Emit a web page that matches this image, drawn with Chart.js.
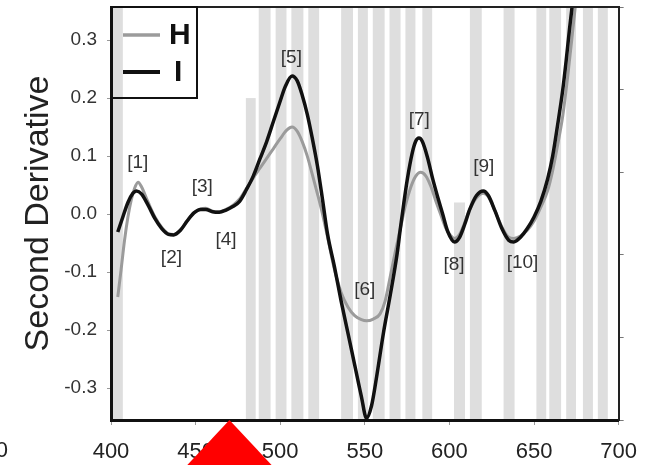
<!DOCTYPE html>
<html>
<head>
<meta charset="utf-8">
<title>Second Derivative</title>
<script src="https://cdn.jsdelivr.net/npm/chart.js@4.4.1/dist/chart.umd.min.js"></script>
<style>
  html, body { margin: 0; padding: 0; background: #fff; }
  #wrap { width: 651px; height: 465px; }
</style>
</head>
<body>
<div id="wrap"><canvas id="myChart" width="651" height="465"></canvas></div>
<script>
// Spectrum H (grey trace)
var hWave = [404,406,408,410,412,414,416,418,422,426,430,434,437,441,445,449,453,456,460,464,
             468,472,476,480,484,488,492,496,500,504,507,510,513,516,519,522,525,528,532,536,
             540,544,548,551,555,559,562,565,568,571,574,577,580,583,586,589,592,595,598,601,
             603,606,609,612,616,620,623,627,631,635,638,642,646,650,654,658,661,664,667,670,
             673,675,678];
var hValues = [-0.143,-0.095,-0.045,-0.005,0.025,0.045,0.055,0.047,0.020,-0.005,-0.023,-0.034,-0.035,-0.028,-0.012,0.002,0.009,0.010,0.005,0.004,
               0.008,0.015,0.026,0.044,0.062,0.079,0.096,0.113,0.130,0.145,0.150,0.143,0.125,0.100,0.068,0.035,0.000,-0.040,-0.095,-0.135,
               -0.160,-0.175,-0.182,-0.184,-0.181,-0.172,-0.150,-0.108,-0.065,-0.025,0.015,0.045,0.065,0.072,0.066,0.048,0.022,-0.002,-0.025,-0.038,
               -0.042,-0.035,-0.015,0.008,0.028,0.036,0.030,0.005,-0.022,-0.040,-0.042,-0.038,-0.028,-0.012,0.012,0.040,0.075,0.120,0.170,0.240,
               0.320,0.375,0.460];

// Spectrum I (black trace)
var iWave = [404,407,410,413,415,418,422,426,430,434,437,441,445,449,453,456,460,464,468,472,
             476,480,484,488,492,496,500,503,507,510,513,516,519,522,525,528,532,536,540,544,
             548,551,554,557,561,565,569,571,573,575,578,580,582,584,587,590,593,596,599,603,
             606,609,612,616,620,623,627,631,635,638,642,646,650,654,658,661,664,667,669,671,
             673,676];
var iValues = [-0.031,-0.005,0.020,0.036,0.040,0.035,0.015,-0.008,-0.025,-0.035,-0.036,-0.028,-0.012,0.002,0.008,0.008,0.004,0.003,0.007,0.013,
               0.022,0.042,0.065,0.095,0.125,0.160,0.195,0.220,0.238,0.230,0.205,0.172,0.130,0.083,0.025,-0.035,-0.090,-0.150,-0.205,-0.260,
               -0.315,-0.352,-0.330,-0.280,-0.205,-0.140,-0.070,-0.025,0.018,0.058,0.105,0.125,0.131,0.125,0.098,0.062,0.030,0.000,-0.030,-0.048,
               -0.040,-0.018,0.008,0.032,0.040,0.032,0.005,-0.025,-0.045,-0.048,-0.040,-0.025,-0.005,0.022,0.060,0.100,0.155,0.215,0.265,0.320,
               0.370,0.450];

// numbered band labels
var peakNames = ['[1]','[2]','[3]','[4]','[5]','[6]','[7]','[8]','[9]','[10]'];
var peakWave  = [415.8, 435.7, 453.9, 468.0, 506.6, 550.0, 582.2, 602.7, 620.3, 643.2];
var peakValue = [0.088, -0.076, 0.047, -0.045, 0.269, -0.131, 0.162, -0.088, 0.081, -0.084];

// shaded wavelength windows (null top = full height)
var bandStart = [401.0,479.7,487.3,497.3,506.6,516.6,536.0,545.9,554.7,564.6,574.0,584.0,602.7,612.1,632.0,651.4,659.0,669.0,678.9,687.7];
var bandEnd   = [407.0,485.5,494.3,503.7,513.7,523.0,543.0,551.8,561.7,571.1,579.9,589.8,609.2,619.1,638.5,657.2,666.0,674.8,684.8,693.6];
var bandTop   = [null,0.2,null,null,null,null,null,null,null,null,null,null,0.02,null,null,null,null,null,null,null];

var xTicks = [400, 450, 500, 550, 600, 650, 700];
var yTicks = [-0.3, -0.2, -0.1, 0.0, 0.1, 0.2, 0.3];
var markerWave = 470;

function toPoints(xs, ys) {
    var pts = [];
    for (var i = 0; i < xs.length; i++) pts.push({x: xs[i], y: ys[i]});
    return pts;
}

// grey bands behind everything
var bandPlugin = {
    id: 'bands',
    beforeDraw: function(chart) {
        var c = chart.ctx, area = chart.chartArea;
        var sx = chart.scales.x, sy = chart.scales.y;
        c.save();
        c.fillStyle = '#dedede';
        for (var i = 0; i < bandStart.length; i++) {
            var x0 = sx.getPixelForValue(bandStart[i]);
            var x1 = sx.getPixelForValue(bandEnd[i]);
            var top = bandTop[i] === null ? area.top : sy.getPixelForValue(bandTop[i]);
            c.fillRect(x0, top, x1 - x0, area.bottom - top);
        }
        c.restore();
    }
};

// top frame line + peak numbers
var notePlugin = {
    id: 'notes',
    afterDatasetsDraw: function(chart) {
        var c = chart.ctx, area = chart.chartArea;
        var sx = chart.scales.x, sy = chart.scales.y;
        c.save();
        c.strokeStyle = '#222';
        c.lineWidth = 2;
        c.beginPath();
        c.moveTo(area.left, area.top);
        c.lineTo(area.right, area.top);
        c.stroke();

        c.fillStyle = '#333';
        c.font = '19px "Liberation Sans", Arial, sans-serif';
        c.textAlign = 'center';
        c.textBaseline = 'middle';
        for (var i = 0; i < peakNames.length; i++) {
            c.fillText(peakNames[i], sx.getPixelForValue(peakWave[i]), sy.getPixelForValue(peakValue[i]));
        }
        c.restore();
    },
    afterDraw: function(chart) {
        var c = chart.ctx, area = chart.chartArea;
        var sx = chart.scales.x;
        var sets = chart.data.datasets;
        c.save();

        // legend box in the upper left corner
        var lx = area.left, ly = area.top;
        c.strokeStyle = '#111';
        c.lineWidth = 2;
        c.strokeRect(lx, ly, 86, 91);
        c.font = 'bold 30px "Liberation Sans Narrow", "Liberation Sans", Arial, sans-serif';
        c.textAlign = 'left';
        c.textBaseline = 'middle';
        for (var i = 0; i < sets.length; i++) {
            var yy = ly + 28 + i * 37;
            c.strokeStyle = sets[i].borderColor;
            c.lineWidth = sets[i].borderWidth + 0.5;
            c.beginPath();
            c.moveTo(lx + 12, yy);
            c.lineTo(lx + 49, yy);
            c.stroke();
            c.fillStyle = '#111';
            c.fillText(sets[i].label, lx + (i === 0 ? 58 : 63), yy + 1);
        }

        // red pointer under the x axis
        var px = sx.getPixelForValue(markerWave);
        c.fillStyle = '#ff0000';
        c.beginPath();
        c.moveTo(px, area.bottom);
        c.lineTo(px + 44, area.bottom + 47);
        c.lineTo(px - 44, area.bottom + 47);
        c.closePath();
        c.fill();

        // edge of the neighbouring panel's axis label
        c.fillStyle = '#222';
        c.font = '22px "Liberation Sans", Arial, sans-serif';
        c.textAlign = 'right';
        c.fillText('0', 8, 451);
        c.restore();
    }
};

document.addEventListener("DOMContentLoaded", function() {
    var ctx = document.getElementById('myChart').getContext('2d');
    if (ctx) {
        var myChart = new Chart(ctx, {
            type: 'line',
            data: {
                datasets: [{
                    label: 'H',
                    data: toPoints(hWave, hValues),
                    borderColor: '#9b9b9b',
                    borderWidth: 3,
                    pointRadius: 0,
                    cubicInterpolationMode: 'monotone',
                    order: 1
                }, {
                    label: 'I',
                    data: toPoints(iWave, iValues),
                    borderColor: '#111111',
                    borderWidth: 3.5,
                    pointRadius: 0,
                    cubicInterpolationMode: 'monotone',
                    order: 0
                }]
            },
            options: {
                responsive: false,
                animation: false,
                layout: { padding: { top: 7, right: 0, bottom: 0, left: 0 } },
                plugins: {
                    legend: { display: false },
                    tooltip: { enabled: false }
                },
                scales: {
                    x: {
                        type: 'linear',
                        min: 400,
                        max: 700,
                        afterBuildTicks: function(scale) {
                            scale.ticks = xTicks.map(function(v) { return {value: v}; });
                        },
                        afterFit: function(scale) {
                            scale.height = 45;
                        },
                        grid: { drawOnChartArea: false, drawTicks: true, tickLength: 5, color: '#999' },
                        border: { display: true, color: '#111', width: 3 },
                        ticks: {
                            padding: 14,
                            color: '#222',
                            font: { family: '"Liberation Sans", Arial, sans-serif', size: 22 },
                            maxRotation: 0
                        }
                    },
                    y: {
                        min: -0.355,
                        max: 0.357,
                        afterBuildTicks: function(scale) {
                            scale.ticks = yTicks.map(function(v) { return {value: v}; });
                        },
                        afterFit: function(scale) {
                            // keep the plot box fixed; no extra room for label overhang
                            scale.width = 111;
                            scale.paddingTop = 0;
                            scale.paddingBottom = 0;
                        },
                        grid: { drawOnChartArea: false, drawTicks: true, tickLength: 4, color: '#999' },
                        border: { display: true, color: '#111', width: 3 },
                        ticks: {
                            padding: 10,
                            color: '#333',
                            font: { family: '"Liberation Sans", Arial, sans-serif', size: 19 },
                            callback: function(v) { return Number(v).toFixed(1); }
                        },
                        title: {
                            display: true,
                            text: 'Second Derivative',
                            color: '#222',
                            padding: { top: 18, bottom: 0 },
                            font: { family: '"Liberation Sans", Arial, sans-serif', size: 34 }
                        }
                    },
                    y2: {
                        position: 'right',
                        min: 0,
                        max: 5,
                        afterBuildTicks: function(scale) {
                            scale.ticks = [0, 1, 2, 3, 4, 5].map(function(v) { return {value: v}; });
                        },
                        afterFit: function(scale) {
                            scale.width = 28;
                            scale.paddingTop = 0;
                            scale.paddingBottom = 0;
                        },
                        grid: { drawOnChartArea: false, drawTicks: true, tickLength: 5, color: '#777' },
                        border: { display: true, color: '#222', width: 2 },
                        ticks: { callback: function() { return ''; } }
                    }
                }
            },
            plugins: [bandPlugin, notePlugin]
        });
    } else {
        console.error("Canvas element with ID 'myChart' not found.");
    }
});
</script>
</body>
</html>
